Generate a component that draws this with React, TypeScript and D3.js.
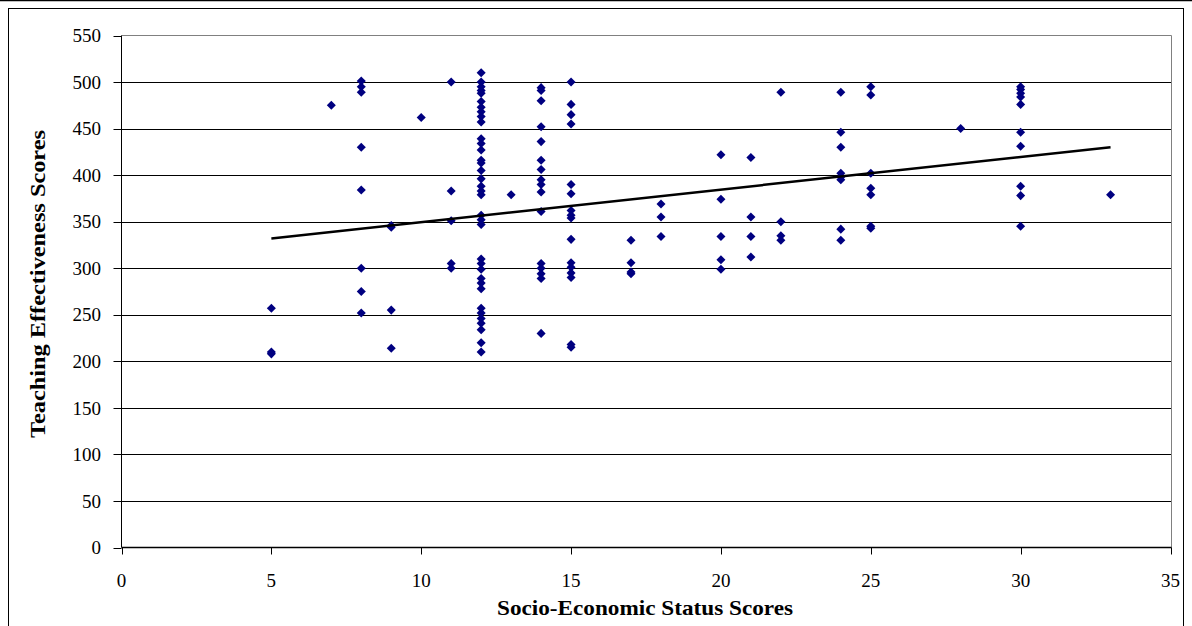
import React from "react";
import * as d3 from "d3";

// Socio-economic status score (x) paired with teaching effectiveness score (y)
const sesScores: number[] = [
  5, 5, 5,
  7,
  8, 8, 8, 8, 8, 8, 8, 8,
  9, 9, 9, 9,
  10,
  11, 11, 11, 11, 11,
  12, 12, 12, 12, 12, 12, 12, 12, 12, 12, 12, 12, 12, 12, 12, 12, 12, 12,
  12, 12, 12, 12, 12, 12, 12, 12, 12, 12, 12, 12, 12, 12, 12, 12, 12, 12,
  13,
  14, 14, 14, 14, 14, 14, 14, 14, 14, 14, 14, 14, 14, 14, 14, 14,
  15, 15, 15, 15, 15, 15, 15, 15, 15, 15, 15, 15, 15, 15, 15, 15,
  17, 17, 17, 17,
  18, 18, 18,
  20, 20, 20, 20, 20,
  21, 21, 21, 21,
  22, 22, 22, 22,
  24, 24, 24, 24, 24, 24, 24, 24,
  25, 25, 25, 25, 25, 25, 25,
  28,
  30, 30, 30, 30, 30, 30, 30, 30, 30, 30,
  33,
];
const teachingScores: number[] = [
  257, 208, 210,
  475,
  501, 495, 489, 430, 384, 300, 275, 252,
  346, 344, 255, 214,
  462,
  500, 383, 351, 305, 300,
  510, 500, 495, 491, 488, 479, 473, 468, 463, 457, 439, 434, 427, 416, 413, 405, 396, 388,
  383, 379, 357, 352, 347, 310, 305, 299, 289, 284, 278, 257, 252, 246, 241, 234, 220, 210,
  379,
  494, 491, 480, 452, 436, 416, 406, 395, 390, 382, 361, 305, 300, 294, 289, 230,
  500, 476, 465, 455, 390, 380, 362, 357, 354, 331, 306, 301, 295, 290, 218, 215,
  330, 306, 296, 294,
  369, 355, 334,
  422, 374, 334, 309, 299,
  419, 355, 334, 312,
  489, 350, 335, 330,
  489, 446, 430, 402, 398, 395, 342, 330,
  495, 486, 402, 386, 379, 345, 343,
  450,
  495, 492, 488, 484, 476, 446, 431, 388, 378, 345,
  379,
];

// Linear trend line
const trendRange: number[] = [5, 33];
const trendSlope = 3.5;
const trendIntercept = 314.5;

const xTicks: number[] = [0, 5, 10, 15, 20, 25, 30, 35];
const yTicks: number[] = [0, 50, 100, 150, 200, 250, 300, 350, 400, 450, 500, 550];

const xTitle = "Socio-Economic Status Scores";
const yTitle = "Teaching Effectiveness Scores";

export default function App() {
  const W = 1192;
  const H = 626;
  const left = 121.5;
  const right = 1171.5;
  const top = 35.5;
  const bottom = 547.5;

  const x = d3.scaleLinear().domain([0, 35]).range([left, 1170.5]);
  const y = d3.scaleLinear().domain([0, 550]).range([bottom, top]);

  const font = "'Liberation Serif', 'Times New Roman', serif";
  const diamond = d3.symbol().type(d3.symbolDiamond2).size(52)() as string;

  const trendLine = d3
    .line<number>()
    .x((d) => x(d))
    .y((d) => y(trendIntercept + trendSlope * d));

  return (
    <svg
      width={W}
      height={H}
      style={{ position: "absolute", left: 0, top: 0, background: "#fff" }}
    >
      <rect x={0} y={0} width={W} height={H} fill="#fff" />
      {/* outer frame */}
      <line x1={0} x2={W} y1={0.5} y2={0.5} stroke="#000" strokeWidth={1.5} />
      <rect x={8.5} y={8.5} width={1175} height={H} fill="none" stroke="#000" strokeWidth={1} />

      {/* gridlines */}
      {yTicks.filter((t) => t > 0 && t < 550).map((t) => (
        <line key={t} x1={left} x2={right} y1={Math.round(y(t)) + 0.5} y2={Math.round(y(t)) + 0.5} stroke="#000" strokeWidth={1} />
      ))}
      {/* plot border */}
      <line x1={left} x2={right} y1={top} y2={top} stroke="#808080" strokeWidth={1} />
      <line x1={right} x2={right} y1={top} y2={bottom} stroke="#808080" strokeWidth={1} />

      {/* axes */}
      <line x1={left} x2={left} y1={top} y2={bottom} stroke="#000" strokeWidth={1} />
      <line x1={left} x2={right} y1={bottom} y2={bottom} stroke="#000" strokeWidth={1.5} />
      {yTicks.map((t) => (
        <g key={t}>
          <line x1={left - 8} x2={left} y1={Math.round(y(t)) + 0.5} y2={Math.round(y(t)) + 0.5} stroke="#000" strokeWidth={1} />
          <text x={101} y={y(t)} dy="0.35em" textAnchor="end" fontFamily={font} fontSize={19} fill="#000">
            {t}
          </text>
        </g>
      ))}
      {xTicks.map((t) => (
        <g key={t}>
          <line x1={Math.round(x(t)) + 0.5} x2={Math.round(x(t)) + 0.5} y1={bottom} y2={bottom + 7} stroke="#000" strokeWidth={1} />
          <text x={x(t)} y={587} textAnchor="middle" fontFamily={font} fontSize={19} fill="#000">
            {t}
          </text>
        </g>
      ))}

      {/* points */}
      {sesScores.map((s, i) => (
        <path key={i} d={diamond} transform={`translate(${x(s)},${y(teachingScores[i])})`} fill="#000080" />
      ))}

      {/* trend line */}
      <path d={trendLine(trendRange) as string} fill="none" stroke="#000" strokeWidth={2.5} />

      {/* titles */}
      <text x={645} y={615} textAnchor="middle" fontFamily={font} fontSize={22} fontWeight="bold" fill="#000" textLength={296} lengthAdjust="spacingAndGlyphs">
        {xTitle}
      </text>
      <text
        transform="translate(45,284) rotate(-90)"
        textAnchor="middle"
        fontFamily={font}
        fontSize={22}
        fontWeight="bold"
        fill="#000"
        textLength={308}
        lengthAdjust="spacingAndGlyphs"
      >
        {yTitle}
      </text>
    </svg>
  );
}
